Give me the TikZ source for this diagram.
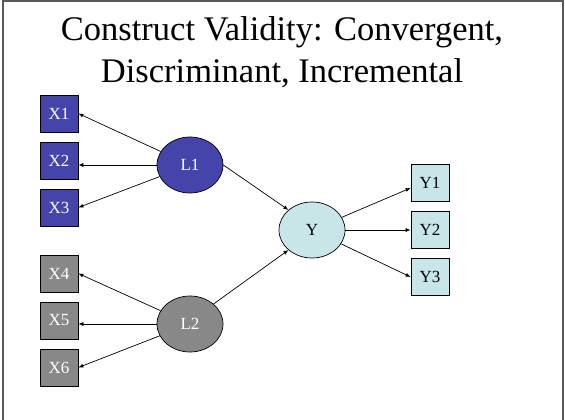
\documentclass[tikz,border=0pt]{standalone}
\usepackage{fontspec}
\setmainfont{Liberation Serif}
\usetikzlibrary{shapes.geometric, positioning, arrows.meta}

\definecolor{lvblue}{RGB}{68,68,170}
\definecolor{lvgray}{RGB}{136,136,136}
\definecolor{lvcyan}{RGB}{200,230,232}

\tikzset{
  obs/.style={draw, minimum width=38pt, minimum height=37pt, inner sep=0pt,
    font=\fontsize{17}{19}\selectfont},
  lat/.style={ellipse, draw, minimum width=66pt, minimum height=56pt, inner sep=0pt,
    font=\fontsize{17}{19}\selectfont},
}

\begin{document}
\begin{tikzpicture}[x=1pt,y=-1pt,node distance=47pt,on grid,
    >={Latex[length=5pt,width=4pt]},line width=0.7pt]

    \useasboundingbox (0,0) rectangle (565,420);
    \draw[black!65, line width=1.2pt] (3,420) -- (3,1) -- (563,1) -- (563,420);

    \node[align=center, inner sep=0pt, font=\fontsize{34.5}{42}\selectfont] (title) at (282,51.7)
        {Construct Validity: Convergent,\\Discriminant, Incremental};

    \node[lat, fill=lvblue, text=white] (L1) at (190,165) {L1};
    \node[lat, fill=lvgray, text=white] (L2) [below=159pt of L1] {L2};
    \node[lat, fill=lvcyan] (Y) [below right=65pt and 122pt of L1] {Y};

    \node[obs, fill=lvblue, text=white] (X1) [above left=51.5pt and 131pt of L1] {X1};
    \node[obs, fill=lvblue, text=white] (X2) [below=of X1] {X2};
    \node[obs, fill=lvblue, text=white] (X3) [below=of X2] {X3};
    \node[obs, fill=lvgray, text=white] (X4) [above left=50.5pt and 131pt of L2] {X4};
    \node[obs, fill=lvgray, text=white] (X5) [below=of X4] {X5};
    \node[obs, fill=lvgray, text=white] (X6) [below=of X5] {X6};
    \node[obs, fill=lvcyan] (Y2) [right=118pt of Y] {Y2};
    \node[obs, fill=lvcyan] (Y1) [above=of Y2] {Y1};
    \node[obs, fill=lvcyan] (Y3) [below=of Y2] {Y3};

    \path[->]
    (L1) edge (X1.east)
         edge (X3.east)
    (L1.west) edge (X2.east |- L1.west)
    (L2) edge (X4.east)
         edge (X6.east)
    (L2.west) edge (X5.east |- L2.west)
    (L1.east) edge (Y.north west)
    (L2.north east) edge (Y.south west)
    (Y) edge ([yshift=-5pt]Y1.west)
        edge (Y2.west)
        edge (Y3.west);

\end{tikzpicture}
\end{document}
